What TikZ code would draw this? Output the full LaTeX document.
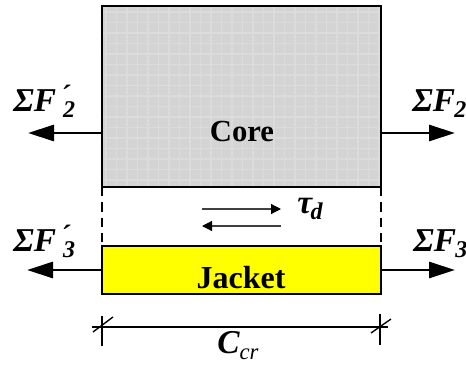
\documentclass[tikz,border=0pt]{standalone}
\usepackage{fontspec}
\setmainfont{Liberation Serif}
\usetikzlibrary{arrows.meta,patterns}
\definecolor{corefill}{HTML}{D4D4D4}
\definecolor{coregrid}{HTML}{DCDCDC}
\definecolor{jacketfill}{HTML}{FFFF00}
\tikzset{
  x=0.75pt,y=-0.75pt,
  block/.style={draw=black,line width=1.6pt,minimum width=209.25pt,inner sep=0pt,outer sep=0pt},
  force/.style={line width=2.1pt,-{Triangle[length=19.5pt,width=12pt]},shorten >=0pt},
  shear/.style={line width=0.9pt,black!75,-{Triangle[length=7.5pt,width=7.5pt,black]}},
  dim/.style={line width=1.5pt},
  tick/.style={line width=1pt},
  coretxtstyle/.style={font=\bfseries\fontsize{23}{25}\selectfont,inner sep=0pt},
  jackettxtstyle/.style={font=\bfseries\fontsize{24}{26}\selectfont,inner sep=0pt},
  symb/.style={font=\bfseries\itshape\fontsize{25}{28}\selectfont,inner sep=0pt,anchor=base west},
}
\newcommand{\sbs}[2][-0.5pt]{\kern#1\raisebox{-5pt}{\fontsize{18}{20}\selectfont #2}}
\newcommand{\prm}{\kern3pt\raisebox{4pt}{\fontsize{22}{24}\selectfont ´}}
\begin{document}
\begin{tikzpicture}
\useasboundingbox (0,0) rectangle (466,367);
\fill[white] (0,0) rectangle (466,367);
% core
\node[block,fill=corefill,minimum height=135.75pt,anchor=north west] (core) at (102,6) {};
\begin{scope}
\clip (102,6) rectangle (381,187);
\foreach \i in {0,...,26} \draw[coregrid,line width=0.8pt] (106+10.5*\i,6) -- (106+10.5*\i,187);
\foreach \i in {0,...,17} \draw[coregrid,line width=0.8pt] (102,12+10.5*\i) -- (381,12+10.5*\i);
\fill[pattern=dots,pattern color=black!18] (102,6) rectangle (381,187);
\end{scope}
\draw[line width=1.6pt] (core.south west) rectangle (core.north east);
\node[coretxtstyle,anchor=base] (coretxt) at (242,141) {Core};
% jacket
\node[block,fill=jacketfill,minimum height=36pt,anchor=north west] (jacket) at (102,246) {};
\node[jackettxtstyle,anchor=base] (jackettxt) at (241,288) {Jacket};
% dashed sides
\draw[line width=1.2pt,dash pattern=on 7pt off 4.5pt] (core.south west) -- (jacket.north west);
\draw[line width=1.2pt,dash pattern=on 7pt off 4.5pt] (core.south east) -- (jacket.north east);
% force arrows
\coordinate (f2l) at (28,133);
\coordinate (f2r) at (455,133);
\coordinate (f3l) at (27,270);
\coordinate (f3r) at (455,270);
\draw[force] (core.west |- f2l) -- (f2l);
\draw[force] (core.east |- f2r) -- (f2r);
\draw[force] (jacket.west |- f3l) -- (f3l);
\draw[force] (jacket.east |- f3r) -- (f3r);
% force labels
\node[symb] (l2l) at (13,111) {ΣF\prm\sbs[-5pt]{2}};
\node[symb] (l2r) at (412,111) {ΣF\sbs{2}};
\node[symb] (l3l) at (13,251) {ΣF\prm\sbs[-5pt]{3}};
\node[symb] (l3r) at (413,251) {ΣF\sbs{3}};
% shear
\coordinate (s1a) at (202,209); \coordinate (s1b) at (281,209);
\coordinate (s2a) at (281,226); \coordinate (s2b) at (202,226);
\draw[shear] (s1a) -- (s1b);
\draw[shear] (s2a) -- (s2b);
\node[symb] (tau) at (297,213) {τ\sbs[-1pt]{d}};
% dimension
\coordinate (dl) at (92,326.5); \coordinate (dr) at (388,326.5);
\draw[dim] (dl) -- (dr);
\coordinate (t1a) at (102,316); \coordinate (t1b) at (102,346);
\coordinate (t2a) at (380,314); \coordinate (t2b) at (380,345);
\coordinate (x1a) at (93,332); \coordinate (x1b) at (113,317);
\coordinate (x2a) at (371,333); \coordinate (x2b) at (391,319);
\draw[tick] (t1a) -- (t1b);
\draw[tick] (t2a) -- (t2b);
\draw[tick] (x1a) -- (x1b);
\draw[tick] (x2a) -- (x2b);
\node[symb] (ccr) at (217,353) {C\raisebox{-5pt}{\fontsize{17}{20}\selectfont\mdseries cr}};
\end{tikzpicture}
\end{document}
